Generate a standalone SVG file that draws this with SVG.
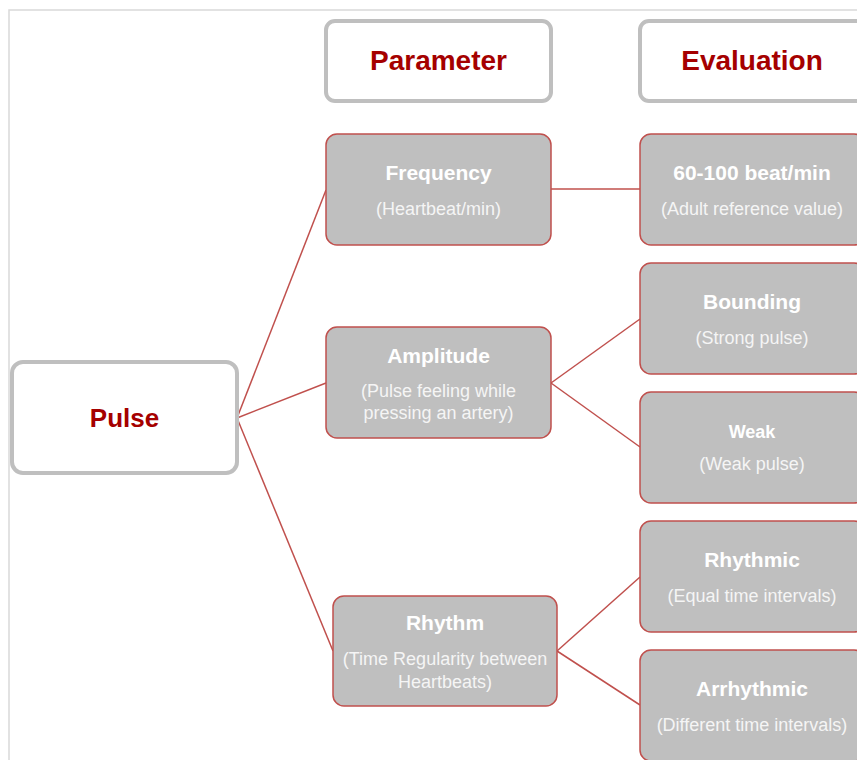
<svg xmlns="http://www.w3.org/2000/svg" width="857" height="760" viewBox="0 0 857 760">
<style>
.frame{fill:none;stroke:#d9d9d9;stroke-width:1.5}
.hdr{fill:#fff;stroke:#bfbfbf;stroke-width:4}
.node{fill:#bfbfbf;stroke:#c0504d;stroke-width:1.5}
.conn{stroke:#c0504d;stroke-width:1.5;fill:none}
.ht{font-family:"Liberation Sans",Arial,sans-serif;font-weight:bold;fill:#a50000;text-anchor:middle;font-size:28px}
.t{font-family:"Liberation Sans",Arial,sans-serif;font-weight:bold;fill:#fff;text-anchor:middle;font-size:21px}
.s{font-family:"Liberation Sans",Arial,sans-serif;fill:#f5f5f5;text-anchor:middle;font-size:18px}
</style>
<rect width="857" height="760" fill="#fff"/>
<path class="frame" d="M9,760 V10 H857"/>
<g id="connectors">
<line class="conn" x1="237" y1="418" x2="326" y2="190"/>
<line class="conn" x1="237" y1="418" x2="326" y2="383"/>
<line class="conn" x1="237" y1="418" x2="333" y2="651"/>
<line class="conn" x1="551" y1="189" x2="640" y2="189"/>
<line class="conn" x1="551" y1="383" x2="640" y2="319"/>
<line class="conn" x1="551" y1="383" x2="640" y2="447"/>
<line class="conn" x1="557" y1="651" x2="640" y2="577"/>
<line class="conn" x1="557" y1="651" x2="640" y2="705"/>
</g>
<g id="parameter-header">
<rect class="hdr" x="326" y="21" width="225" height="80" rx="9"/>
<text class="ht" x="438.5" y="70">Parameter</text>
</g>
<g id="evaluation-header">
<rect class="hdr" x="640" y="21" width="225" height="80" rx="9"/>
<text class="ht" x="752" y="70">Evaluation</text>
</g>
<g id="pulse">
<rect class="hdr" x="12" y="362" width="225" height="111" rx="11"/>
<text class="ht" x="124.5" y="427" style="font-size:26px">Pulse</text>
</g>
<g id="frequency">
<rect class="node" x="326" y="134" width="225" height="111" rx="11"/>
<text class="t" x="438.5" y="180">Frequency</text>
<text class="s" x="438.5" y="215">(Heartbeat/min)</text>
</g>
<g id="rate">
<rect class="node" x="640" y="134" width="225" height="111" rx="11"/>
<text class="t" x="752" y="180">60-100 beat/min</text>
<text class="s" x="752" y="215">(Adult reference value)</text>
</g>
<g id="amplitude">
<rect class="node" x="326" y="327" width="225" height="111" rx="11"/>
<text class="t" x="438.5" y="363">Amplitude</text>
<text class="s" x="438.5" y="397">(Pulse feeling while</text>
<text class="s" x="438.5" y="419">pressing an artery)</text>
</g>
<g id="bounding">
<rect class="node" x="640" y="263" width="225" height="111" rx="11"/>
<text class="t" x="752" y="309">Bounding</text>
<text class="s" x="752" y="344">(Strong pulse)</text>
</g>
<g id="weak">
<rect class="node" x="640" y="392" width="225" height="111" rx="11"/>
<text class="t" x="752" y="438" style="font-size:18px">Weak</text>
<text class="s" x="752" y="470">(Weak pulse)</text>
</g>
<g id="rhythm">
<rect class="node" x="333" y="596" width="224" height="110" rx="11"/>
<text class="t" x="445" y="630">Rhythm</text>
<text class="s" x="445" y="665">(Time Regularity between</text>
<text class="s" x="445" y="688">Heartbeats)</text>
</g>
<g id="rhythmic">
<rect class="node" x="640" y="521" width="225" height="111" rx="11"/>
<text class="t" x="752" y="567">Rhythmic</text>
<text class="s" x="752" y="602">(Equal time intervals)</text>
</g>
<g id="arrhythmic">
<rect class="node" x="640" y="650" width="225" height="111" rx="11"/>
<text class="t" x="752" y="696">Arrhythmic</text>
<text class="s" x="752" y="731">(Different time intervals)</text>
</g>
</svg>
